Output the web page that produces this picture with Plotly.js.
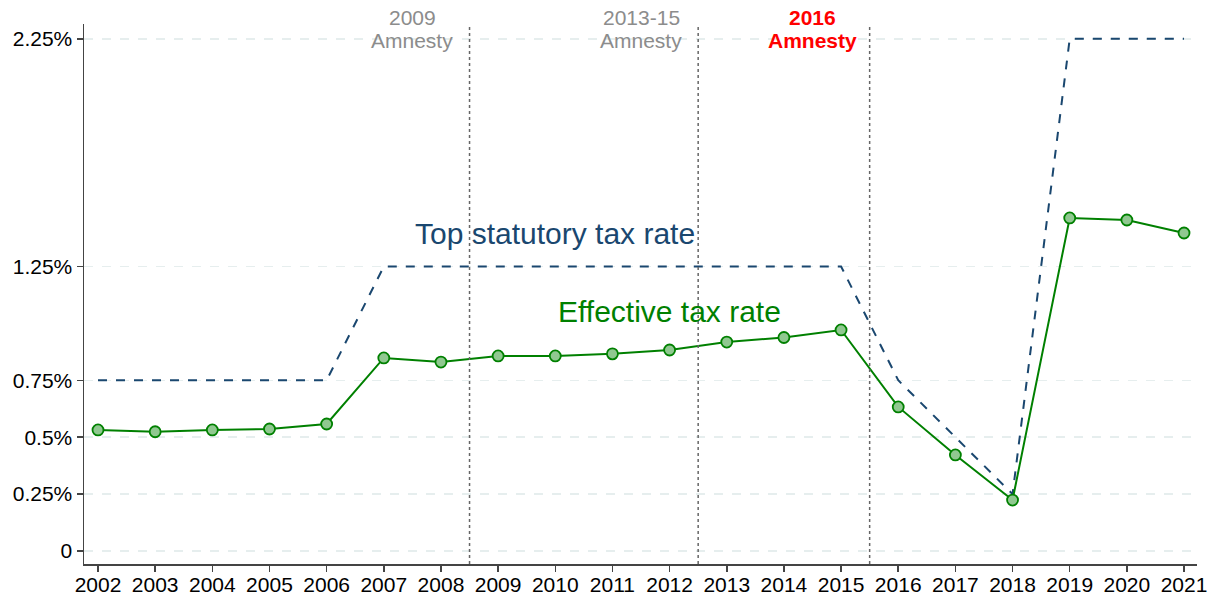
<!DOCTYPE html>
<html>
<head>
<meta charset="utf-8">
<script src="https://cdn.plot.ly/plotly-3.0.1.min.js"></script>
<style>html,body{margin:0;padding:0;background:#fff;}#chart{width:1215px;height:598px;}</style>
</head>
<body>
<div id="chart"></div>
<script>
const years = [2002,2003,2004,2005,2006,2007,2008,2009,2010,2011,2012,2013,2014,2015,2016,2017,2018,2019,2020,2021];
const effectiveRate = [0.532,0.524,0.532,0.536,0.558,0.848,0.830,0.857,0.857,0.866,0.883,0.918,0.938,0.971,0.633,0.422,0.224,1.463,1.454,1.397];
const statutoryRate = [0.75,0.75,0.75,0.75,0.75,1.25,1.25,1.25,1.25,1.25,1.25,1.25,1.25,1.25,0.75,0.5,0.25,2.25,2.25,2.25];
const yTickVals = [0,0.25,0.5,0.75,1.25,2.25];
const yTickText = ["0","0.25%","0.5%","0.75%","1.25%","2.25%"];
const amnestyLines = [2008.5,2012.5,2015.5];
const amnestyLabels = [
  {x:2007.5, top:"2009", bottom:"Amnesty", color:"#8c8c8c", bold:false},
  {x:2011.5, top:"2013-15", bottom:"Amnesty", color:"#8c8c8c", bold:false},
  {x:2014.5, top:"2016", bottom:"Amnesty", color:"#ff0000", bold:true}
];

const traces = [
  {x:years, y:statutoryRate, type:'scatter', mode:'lines',
   line:{color:'#1a476f', width:2, dash:'dash'}, hoverinfo:'skip'},
  {x:years, y:effectiveRate, type:'scatter', mode:'lines+markers',
   line:{color:'#008000', width:2},
   marker:{size:11, color:'#90c890', line:{color:'#008000', width:1.8}}, hoverinfo:'skip'}
];

const shapes = amnestyLines.map(v => ({type:'line', xref:'x', yref:'paper', x0:v, x1:v, y0:0, y1:1.0,
  line:{color:'#666', width:1.5, dash:'dot'}}));

const fam = 'Liberation Sans, Arial, sans-serif';
const annotations = [];
amnestyLabels.forEach(a => {
  annotations.push({x:a.x, y:1, xref:'x', yref:'paper', yanchor:'middle', yshift:7, showarrow:false,
    text: a.bold ? '<b>'+a.top+'</b>' : a.top, font:{size:21, color:a.color, family:fam}});
  annotations.push({x:a.x, y:1, xref:'x', yref:'paper', yanchor:'middle', yshift:-16, showarrow:false,
    text: a.bold ? '<b>'+a.bottom+'</b>' : a.bottom, font:{size:21, color:a.color, family:fam}});
});
annotations.push({x:2010.0, y:1.393, xref:'x', yref:'y', showarrow:false, text:'Top statutory tax rate',
  font:{size:30, color:'#1a476f', family:fam}});
annotations.push({x:2012.0, y:1.05, xref:'x', yref:'y', showarrow:false, text:'Effective tax rate',
  font:{size:30, color:'#008000', family:fam}});

const layout = {
  width:1215, height:598,
  margin:{l:84, r:18, t:24, b:34},
  paper_bgcolor:'#fff', plot_bgcolor:'#fff',
  showlegend:false,
  font:{family:fam, size:21, color:'#000'},
  xaxis:{range:[2001.755,2021.227], tickvals:years, ticktext:years.map(String),
    showgrid:false, zeroline:false, showline:true, linecolor:'#444', linewidth:1.5,
    ticks:'outside', ticklen:6, tickcolor:'#444', tickwidth:1.5, tickfont:{size:21, color:'#000'},
    ticklabelstandoff:-5},
  yaxis:{range:[-0.057,2.315], tickvals:yTickVals, ticktext:yTickText,
    showgrid:true, gridcolor:'#e6eeee', gridwidth:1.5, griddash:'dash', zeroline:false,
    showline:true, linecolor:'#444', linewidth:1.5,
    ticks:'outside', ticklen:6, tickcolor:'#444', tickwidth:1.5, tickfont:{size:21, color:'#000'}},
  shapes:shapes, annotations:annotations
};
Plotly.newPlot('chart', traces, layout, {displayModeBar:false, staticPlot:true});
</script>
</body>
</html>
